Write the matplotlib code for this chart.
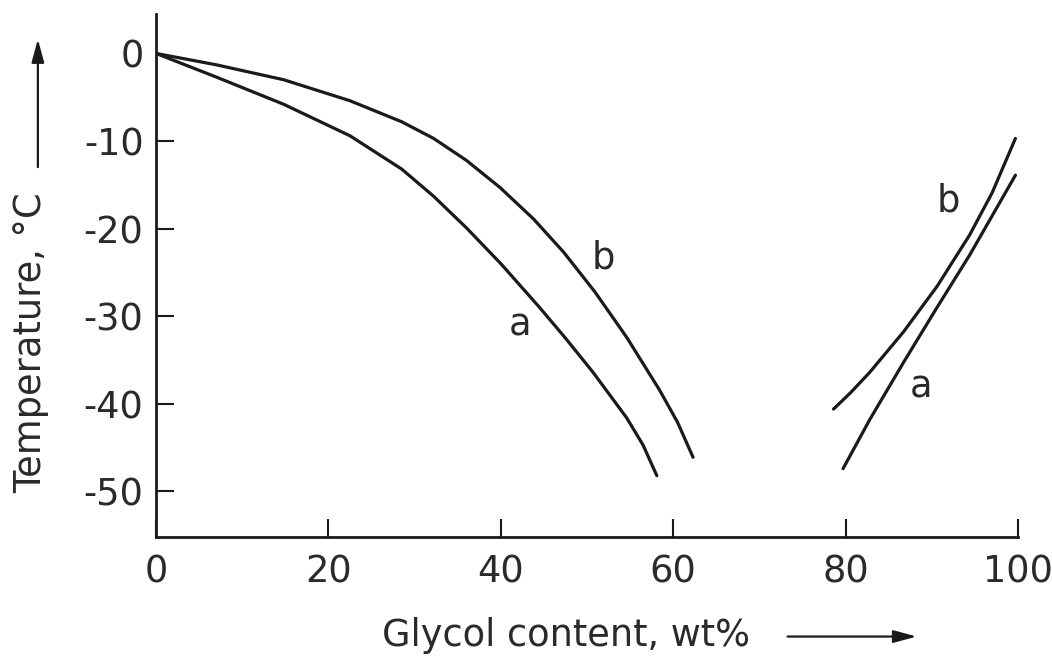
import matplotlib
matplotlib.use('Agg')
import matplotlib.pyplot as plt

# ── Data ──────────────────────────────────────────────────────────────────────
a_left_x = [0, 7.0, 14.8, 22.5, 28.5, 32.2, 36.0, 40.0, 44.5, 47.5, 50.7, 54.6, 56.5, 58.1]
a_left_y = [0, -2.7, -5.8, -9.4, -13.2, -16.3, -19.9, -24.0, -29.0, -32.5, -36.4, -41.6, -44.7, -48.2]
b_left_x = [0, 7.0, 14.8, 22.5, 28.5, 32.2, 36.0, 39.9, 43.8, 47.3, 50.9, 54.6, 58.4, 60.5, 62.3]
b_left_y = [0, -1.3, -3.0, -5.4, -7.8, -9.7, -12.2, -15.3, -18.9, -22.7, -27.2, -32.4, -38.4, -42.1, -46.1]
b_right_x = [78.6, 80.6, 82.8, 86.7, 90.6, 94.4, 97.0, 99.7]
b_right_y = [-40.6, -38.7, -36.4, -31.8, -26.6, -20.7, -15.9, -9.7]
a_right_x = [79.7, 82.8, 86.7, 90.6, 94.4, 99.7]
a_right_y = [-47.4, -41.8, -35.3, -29.0, -23.0, -13.9]

x_ticks = [0, 20, 40, 60, 80, 100]
y_ticks = [0, -10, -20, -30, -40, -50]

curve_labels = [('a', 42.2, -31.0), ('b', 51.9, -23.4),
                ('b', 91.9, -16.8), ('a', 88.8, -38.1)]

plt.rcParams['axes.unicode_minus'] = False
FONT = ['DejaVu Sans']
FS = 26.5
INK = '#1a1a1a'
TXT = '#2a2a2a'

fig = plt.figure(figsize=(10.52, 6.61), dpi=100)
fig.patch.set_facecolor('white')
ax = fig.add_axes([0.1483, 0.1876, 0.8194, 0.7912])

for xs, ys in [(a_left_x, a_left_y), (b_left_x, b_left_y),
               (b_right_x, b_right_y), (a_right_x, a_right_y)]:
    ax.plot(xs, ys, color=INK, lw=2.3, solid_capstyle='round',
            solid_joinstyle='round')

for txt, x, y in curve_labels:
    ax.text(x, y, txt, fontsize=FS, family=FONT, color=TXT,
            ha='center', va='center')

ax.set_xlim(0, 100)
ax.set_ylim(-55.2, 4.5)
ax.set_xticks(x_ticks)
ax.set_yticks(y_ticks)
ax.spines[['top', 'right']].set_visible(False)
for s in ['left', 'bottom']:
    ax.spines[s].set_linewidth(2.0)
    ax.spines[s].set_color(INK)
ax.tick_params(direction='in', length=13, width=1.5, color=INK,
               labelsize=FS, labelcolor=TXT)
ax.tick_params(axis='x', pad=12)
ax.tick_params(axis='y', pad=9)
for lab in ax.get_xticklabels() + ax.get_yticklabels():
    lab.set_family(FONT)
# no tick stub at 0 °C (the curves start there)
ax.yaxis.get_major_ticks()[0].tick1line.set_visible(False)

# Axis labels with arrows (figure coords)
arrow = dict(arrowstyle='-|>,head_length=1.4,head_width=0.38', color=INK, lw=1.6)
fig.text(0.538, 0.039, 'Glycol content, wt%', fontsize=FS, family=FONT,
         color=TXT, ha='center', va='center')
ax.annotate('', xy=(0.874, 0.037), xytext=(0.746, 0.037),
            xycoords='figure fraction', arrowprops=arrow)
fig.text(0.029, 0.481, 'Temperature, °C', fontsize=FS, family=FONT,
         color=TXT, rotation=90, ha='center', va='center')
ax.annotate('', xy=(0.036, 0.945), xytext=(0.036, 0.743),
            xycoords='figure fraction', arrowprops=arrow)

fig.savefig('out.png', dpi=100, facecolor='white')
